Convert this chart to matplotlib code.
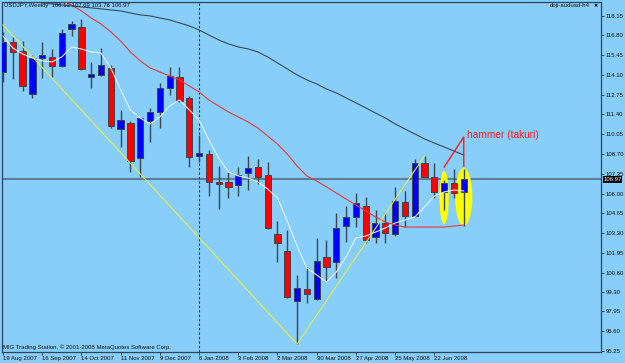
import matplotlib.pyplot as plt
from matplotlib.patches import Ellipse

plt.rcParams['font.family'] = ['Liberation Sans', 'DejaVu Sans']

# weekly USDJPY candles, 19 Aug 2007 .. 13 Jul 2008
opens = [114.30, 116.35, 115.74, 112.80, 115.28, 115.33, 114.71, 117.24, 117.38, 113.96,
         114.10, 114.58, 110.41, 110.82, 108.43, 110.96, 111.57, 113.21, 113.96, 112.53,
         108.57, 108.70, 106.79, 106.79, 106.59, 107.43, 107.82, 107.27, 103.24, 102.08,
         98.66, 99.48, 98.80, 101.67, 101.33, 103.78, 104.40, 105.15, 103.03, 103.99,
         103.24, 105.42, 104.47, 108.09, 107.13, 106.11, 106.72, 106.13]
highs = [117.04, 116.70, 116.42, 115.47, 116.35, 115.87, 117.24, 117.79, 117.92, 114.99,
         115.94, 114.78, 111.71, 110.96, 111.26, 111.85, 113.55, 114.65, 114.65, 112.67,
         110.00, 108.98, 107.88, 107.47, 107.82, 108.57, 108.36, 108.16, 104.12, 103.51,
         100.44, 100.98, 102.97, 102.83, 104.67, 105.15, 106.04, 105.76, 104.88, 104.67,
         106.45, 106.18, 108.36, 108.57, 108.09, 106.93, 107.68, 107.69]
lows = [113.62, 113.83, 113.00, 112.53, 113.89, 113.96, 114.65, 116.76, 114.47, 113.21,
        114.03, 110.48, 109.18, 107.47, 107.13, 109.52, 110.48, 112.73, 112.25, 107.82,
        108.16, 105.83, 104.95, 105.70, 105.83, 106.24, 106.65, 103.61, 101.33, 98.87,
        95.72, 98.53, 98.73, 100.03, 100.23, 102.69, 103.71, 102.62, 102.62, 102.62,
        103.10, 103.71, 104.40, 107.10, 105.70, 104.88, 105.70, 103.76]
closes = [116.35, 115.67, 113.35, 115.26, 115.47, 114.71, 116.97, 117.58, 114.51, 114.17,
          114.78, 110.62, 111.03, 108.22, 111.16, 111.57, 113.21, 114.03, 112.32, 108.50,
          108.77, 106.79, 106.65, 106.45, 107.27, 107.73, 107.13, 103.65, 102.62, 98.94,
          99.55, 99.14, 101.39, 100.98, 103.65, 104.40, 105.36, 102.83, 103.99, 103.31,
          105.49, 104.47, 108.09, 107.13, 106.11, 106.72, 106.04, 106.97]

# moving averages
fast_ma = [116.76, 115.94, 115.53, 115.26, 115.06, 114.99, 115.33, 116.01, 115.87, 115.67,
           115.60, 114.58, 113.08, 111.71, 111.16, 110.75, 111.23, 111.98, 112.39, 111.71,
           111.03, 109.66, 108.43, 107.47, 107.20, 107.06, 106.79, 106.31, 105.70, 104.12,
           102.42, 100.91, 100.44, 99.96, 100.64, 101.67, 102.97, 103.10, 103.37, 103.65,
           103.99, 104.19, 104.40, 105.08, 105.83, 106.11, 106.24, 106.18]
mid_ma_start = 5
mid_ma = [119.60, 119.22, 118.88, 118.47, 117.99, 117.58, 117.04, 116.42, 115.67, 115.06,
          114.58, 114.30, 114.03, 113.76, 113.35, 112.94, 112.39, 111.98, 111.57, 111.23,
          110.89, 110.48, 109.93, 109.38, 108.70, 107.88, 107.20, 106.86, 106.45, 106.04,
          105.63, 105.22, 104.81, 104.40, 104.06, 103.85, 103.71, 103.71, 103.71, 103.71,
          103.71, 103.78, 103.85]
slow_ma_start = 2
slow_ma = [119.20, 119.09, 119.02, 118.95, 118.88, 118.81, 118.74, 118.68, 118.61, 118.54,
           118.47, 118.33, 118.20, 118.13, 117.99, 117.86, 117.65, 117.45, 117.17, 116.83,
           116.49, 116.22, 116.01, 115.88, 115.67, 115.33, 114.92, 114.51, 114.10, 113.76,
           113.48, 113.14, 112.87, 112.53, 112.19, 111.85, 111.50, 111.16, 110.75, 110.41,
           110.07, 109.73, 109.45, 109.18, 108.91, 108.63]
zigzag_weeks = [0, 30, 43]
zigzag_prices = [117.51, 95.72, 108.57]

week_labels = ['19 Aug 2007', '16 Sep 2007', '14 Oct 2007', '11 Nov 2007', '9 Dec 2007',
               '6 Jan 2008', '3 Feb 2008', '2 Mar 2008', '30 Mar 2008', '27 Apr 2008',
               '25 May 2008', '22 Jun 2008']
price_ticks = [118.15, 116.80, 115.45, 114.10, 112.75, 111.40, 110.05, 108.70, 107.35,
               106.00, 104.65, 103.30, 101.95, 100.60, 99.30, 97.95, 96.60, 95.25]
year_start_week = 20
hammer_weeks = [45, 47]
hammer_centers = [105.73, 105.77]

weeks = list(range(len(opens)))
bg = '#87cefa'
frame = '#2d4560'
bar_line = '#3a4652'

fig = plt.figure(figsize=(6.25, 3.63), dpi=100, facecolor=bg)
ax = fig.add_axes([2 / 625, 11 / 363, 599 / 625, 350 / 363], facecolor=bg)

ax.axhline(closes[-1], color='#5b7d96', lw=1.5, zorder=1)
ax.axvline(year_start_week, color='#1e2e3e', lw=0.8, ls=(0, (2, 2)), zorder=1)

# highlighted hammers
for wk, yc, w, h in zip(hammer_weeks, hammer_centers, [0.95, 1.75], [3.62, 3.96]):
    ax.add_patch(Ellipse((wk, yc), w, h, facecolor='#ffff00', edgecolor='none', zorder=1.5))

colors = ['#0000ff' if c >= o else '#ff0000' for o, c in zip(opens, closes)]
bottoms = [min(o, c) for o, c in zip(opens, closes)]
heights = [max(abs(c - o), 0.12) for o, c in zip(opens, closes)]
ax.vlines(weeks, lows, highs, color=bar_line, lw=1.0, zorder=2)
ax.bar(weeks, heights, bottom=bottoms, width=0.64, color=colors,
       edgecolor=bar_line, linewidth=0.7, zorder=3)

ax.plot(weeks, fast_ma, color='#e6f2fb', lw=0.8, zorder=4)
ax.plot(weeks[mid_ma_start:], mid_ma, color='#e8383a', lw=0.8, zorder=4)
ax.plot(weeks[slow_ma_start:], slow_ma, color='#34495c', lw=0.8, zorder=4)
ax.plot(zigzag_weeks, zigzag_prices, color='#e5ec4a', lw=0.8, zorder=4)

# annotation
ax.plot([45, 47, 47], [107.81, 109.86, 107.88], color='#ff1a1a', lw=1, zorder=5)
ax.text(47.3, 110.0, 'hammer (takuri)', color='#ff1a1a', fontsize=7.3, va='center', ha='left')

ax.set_xlim(-0.1, 61.0)
ax.set_ylim(95.18, 119.08)
ax.yaxis.tick_right()
ax.set_yticks(price_ticks)
ax.set_yticklabels([f'{p:.2f}' for p in price_ticks])
ax.set_xticks(weeks[::4])
ax.set_xticklabels(week_labels)
ax.tick_params(axis='both', labelsize=4.3, length=2.2, width=0.6, color='#1e2e3e',
               labelcolor='#111111', pad=1)
for lbl in ax.get_xticklabels():
    lbl.set_ha('left')
for s in ax.spines.values():
    s.set_color(frame)
    s.set_linewidth(0.9)

ax.text(1.004, closes[-1], f'{closes[-1]:.2f}', transform=ax.get_yaxis_transform(),
        color='white', fontsize=4.3, va='center', ha='left', zorder=6, clip_on=False,
        bbox=dict(facecolor='black', edgecolor='none', pad=0.5))

fig.text(4 / 625, 1 - 6 / 363,
         f'USDJPY,Weekly  {opens[-1]:.2f} {highs[-1]:.2f} {lows[-1]:.2f} {closes[-1]:.2f}',
         fontsize=4.3, va='center', ha='left', color='#111111')
fig.text(590 / 625, 1 - 6 / 363, 'doji-audusd-h4', fontsize=4.3, va='center', ha='right',
         color='#111111')
fig.text(596 / 625, 1 - 6 / 363, '\u2716', family='DejaVu Sans', fontsize=3.5,
         va='center', ha='center', color='#111111')
fig.text(3 / 625, 1 - 347 / 363, 'MIG Trading Station, \u00a9 2001-2008 MetaQuotes Software Corp.',
         fontsize=4.3, va='center', ha='left', color='#111111')

fig.savefig('out.png', dpi=100, facecolor=bg)
